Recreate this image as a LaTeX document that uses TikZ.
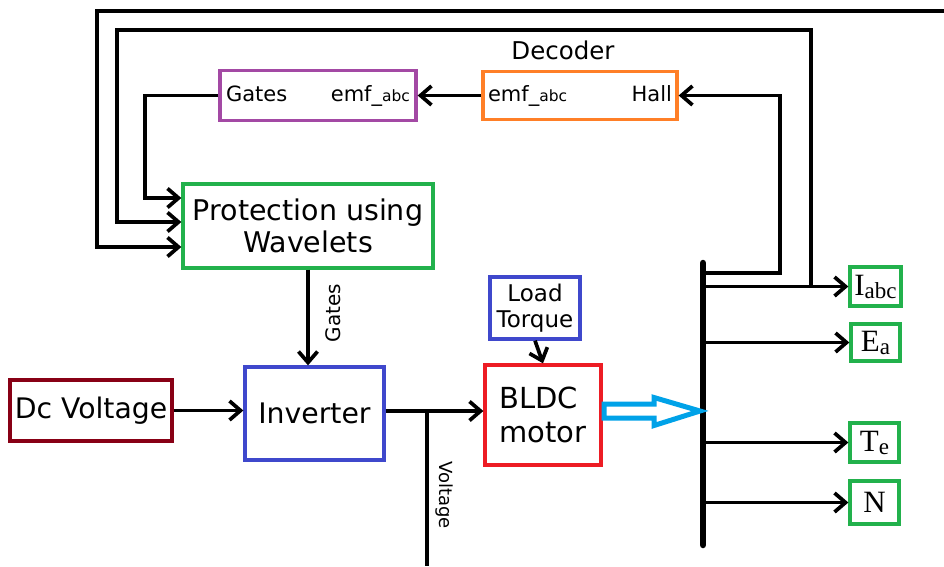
\documentclass[tikz,border=0pt]{standalone}
\usepackage{fontspec}
\setmainfont{DejaVu Sans}
\newfontfamily\outfont{Liberation Serif}
\usetikzlibrary{arrows.meta}
\definecolor{pgreen}{RGB}{34,177,76}
\definecolor{ppurple}{RGB}{163,73,164}
\definecolor{porange}{RGB}{255,127,39}
\definecolor{pblue}{RGB}{63,72,204}
\definecolor{dcred}{RGB}{136,0,21}
\definecolor{pred}{RGB}{237,28,36}
\definecolor{pcyan}{RGB}{0,162,232}

\begin{document}
\begin{tikzpicture}[x=1pt, y=-1pt,
    block/.style = {draw, line width=3.3pt, inner sep=0pt},
    wire/.style = {line width=3.7pt},
    arr/.style = {wire, -{Straight Barb[length=11pt,width=19pt]}},
    outbox/.style = {draw=pgreen, line width=3.3pt, inner sep=0pt, font=\outfont\fontsize{31}{31}\selectfont}]
    \useasboundingbox (0,0) rectangle (944,566);

    \node[block, draw=pgreen, minimum width=250pt, minimum height=84pt, align=center, font=\fontsize{28.5}{32}\selectfont] (prot) at (308,226) {Protection using\\Wavelets};
    \node[block, draw=ppurple, minimum width=196pt, minimum height=50pt, text width=184pt, font=\fontsize{21}{21}\selectfont] (enc) at (318,95.5) {Gates\hfill emf\_{\fontsize{15.5}{15.5}\selectfont abc}};
    \node[block, draw=porange, minimum width=194pt, minimum height=48pt, text width=184pt, font=\fontsize{21}{21}\selectfont] (dec) at (580,95.5) {emf\_{\fontsize{15.5}{15.5}\selectfont abc}\hfill Hall};
    \node[font=\fontsize{24.5}{24.5}\selectfont] (declabel) at (563,50) {Decoder};
    \node[block, draw=dcred, minimum width=162pt, minimum height=61pt, font=\fontsize{28.3}{28.3}\selectfont] (dc) at (91,410.5) {Dc Voltage};
    \node[block, draw=pblue, minimum width=139pt, minimum height=93pt, font=\fontsize{28.3}{28.3}\selectfont] (inv) at (314.5,413.5) {Inverter};
    \node[block, draw=pblue, minimum width=90pt, minimum height=62pt, align=center, font=\fontsize{23}{26}\selectfont] (load) at (535,308) {Load\\Torque};
    \node[block, draw=pred, minimum width=116pt, minimum height=100pt, align=left, font=\fontsize{29}{34}\selectfont] (motor) at (543,415) {BLDC\\motor};

    % outputs
    \node[outbox, minimum width=51pt, minimum height=39pt] (iabc) at (875.5,286.5) {I\raisebox{-3pt}{\fontsize{23}{23}\selectfont abc}};
    \node[outbox, minimum width=49pt, minimum height=37pt] (ea) at (875.5,342.5) {E\raisebox{-3pt}{\fontsize{23}{23}\selectfont a}};
    \node[outbox, minimum width=49pt, minimum height=39pt] (te) at (874.5,442.5) {T\raisebox{-3pt}{\fontsize{23}{23}\selectfont e}};
    \node[outbox, minimum width=49pt, minimum height=43pt] (nout) at (874.5,502.5) {N};

    % bus
    \coordinate (bustop) at (703,263);
    \coordinate (busbot) at (703,545);
    \coordinate (bh) at (703,273);
    \coordinate (b1) at (703,286.5);
    \coordinate (b2) at (703,342.5);
    \coordinate (b3) at (703,442.5);
    \coordinate (b4) at (703,502.5);
    \coordinate (iloop) at (811,286.5);
    \coordinate (oloop) at (944,11);
    \coordinate (vtap) at (427,411);
    \coordinate (vend) at (427,566);
    \draw[line width=6.5pt, line cap=round] (bustop) -- (busbot);

    \draw[arr] (prot.south) -- (prot.south |- inv.north);
    \node[rotate=90, font=\fontsize{20}{20}\selectfont] (gateslbl) at (333,313) {Gates};
    \draw[arr] (dc.east) -- (dc.east -| inv.west);
    \draw[arr] (inv.east |- vtap) -- (motor.west |- vtap);
    \draw[wire] (vtap) -- (vend);
    \node[rotate=-90, font=\fontsize{18}{18}\selectfont] (voltlbl) at (444,495) {Voltage};
    \draw[arr] (load.south) -- (motor.north);

    % power flow to the bus
    \draw[pcyan, line width=5pt] (604,404) -- (654,404) -- (654,397.5) -- (700,411) -- (654,425.5) -- (654,418) -- (604,418) -- cycle;

    \draw[arr] (b1) -- (iabc.west);
    \draw[arr] (b2) -- (ea.west);
    \draw[arr] (b3) -- (te.west);
    \draw[arr] (b4) -- (nout.west);

    % feedback
    \draw[arr] (bh) -| (780,95.5) -- (dec.east);
    \draw[arr] (dec.west) -- (enc.east);
    \draw[arr] (enc.west) -| (145,198) -- ([yshift=28pt]prot.west);
    \draw[arr] (iloop) |- (117,30) |- ([yshift=4pt]prot.west);
    \draw[arr] (oloop) -| (97,247) -- ([yshift=-21pt]prot.west);
\end{tikzpicture}
\end{document}
